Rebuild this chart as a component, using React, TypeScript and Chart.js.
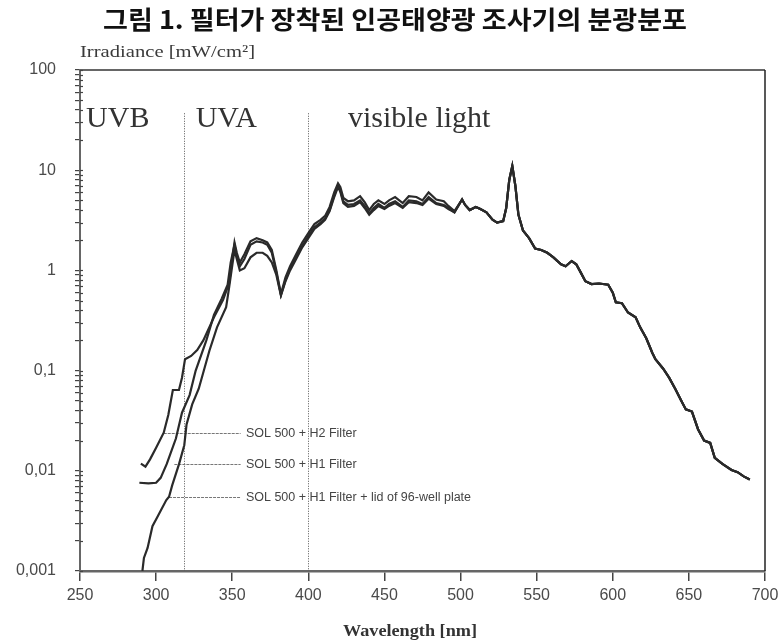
import { useEffect, useRef } from 'react';
import { Chart, registerables } from 'chart.js';

Chart.register(...registerables);

// Text
const TITLE = '그림 1. 필터가 장착된 인공태양광 조사기의 분광분포';
const Y_TITLE = 'Irradiance [mW/cm²]';
const X_TITLE = 'Wavelength [nm]';

// Axes
const X_MIN = 250;
const X_MAX = 700;
const X_STEP = 50;
const Y_MIN = 0.001;
const Y_MAX = 100;
const yMajorTicks = [0.001, 0.01, 0.1, 1, 10, 100];
const yTickLabels = ['0,001', '0,01', '0,1', '1', '10', '100'];

// SOL 500 + H2 Filter, UV and blue part
const h2Wavelength = [
  290, 293, 296, 300, 305, 308, 311, 315, 317, 319, 323, 327, 331, 338, 344, 348,
  350, 351.5, 353, 355, 358, 362, 366, 370, 373, 376, 379, 382, 385, 388, 392, 396,
  400, 404, 408, 411, 414, 417, 419.5, 421, 423, 426, 430, 434, 437, 440, 443, 446,
  450, 453, 457, 462, 466, 471, 475, 479, 484, 489, 492, 496,
];
const h2Irradiance = [
  0.0118, 0.011, 0.013, 0.017, 0.024, 0.036, 0.064, 0.064, 0.085, 0.13, 0.14, 0.16,
  0.2, 0.34, 0.51, 0.75, 1.3, 1.9, 1.5, 1.2, 1.45, 1.95, 2.1, 2.0, 1.9, 1.6, 1.0,
  0.58, 0.85, 1.1, 1.45, 1.9, 2.35, 2.9, 3.2, 3.5, 4.3, 6.0, 7.4, 6.8, 5.3, 4.9, 5.0,
  5.5, 4.8, 4.0, 4.6, 5.0, 4.6, 5.0, 5.4, 4.7, 5.5, 5.4, 5.0, 6.0, 5.1, 4.9, 4.4, 3.9,
];

// SOL 500 + H1 Filter, UV and blue part
const h1Wavelength = [
  289, 295, 300, 303, 307, 313, 317, 322, 326, 333, 338, 343, 347, 349, 351.5, 353,
  355, 358, 362, 366, 370, 373, 376, 379, 382, 385, 388, 392, 396, 400, 404, 408,
  411, 414, 417, 419.5, 421, 423, 426, 430, 434, 437, 440, 443, 446, 450, 453, 457,
  462, 466, 471, 475, 479, 484, 489, 492, 496,
];
const h1Irradiance = [
  0.0076, 0.0075, 0.0076, 0.0085, 0.0117, 0.021, 0.038, 0.057, 0.1, 0.2, 0.36, 0.52,
  0.72, 1.2, 1.8, 1.4, 1.1, 1.3, 1.8, 1.95, 1.9, 1.8, 1.5, 0.95, 0.57, 0.8, 1.05,
  1.35, 1.75, 2.2, 2.7, 3.0, 3.3, 4.0, 5.6, 7.0, 6.3, 4.9, 4.5, 4.6, 5.0, 4.4, 3.7,
  4.2, 4.6, 4.2, 4.6, 4.9, 4.3, 5.0, 4.9, 4.6, 5.4, 4.7, 4.5, 4.2, 3.8,
];

// SOL 500 + H1 Filter + lid of 96-well plate, UV and blue part
const lidWavelength = [
  291, 292, 294.4, 297.6, 301, 306.7, 308.5, 310.6, 315, 318.5, 320, 323.7, 328, 335,
  340, 346, 348, 351.5, 353, 355, 358, 362, 366, 370, 373, 376, 379, 382, 385, 388,
  392, 396, 400, 404, 408, 411, 414, 417, 419.5, 421, 423, 426, 430, 434, 437, 440,
  443, 446, 450, 453, 457, 462, 466, 471, 475, 479, 484, 489, 492, 496,
];
const lidIrradiance = [
  0.001, 0.00135, 0.0017, 0.0028, 0.0035, 0.0051, 0.0055, 0.0072, 0.0116, 0.018,
  0.029, 0.046, 0.066, 0.158, 0.27, 0.43, 0.68, 1.6, 1.3, 1.0, 1.05, 1.35, 1.5, 1.5,
  1.4, 1.2, 0.9, 0.56, 0.78, 1.0, 1.3, 1.7, 2.1, 2.6, 2.9, 3.2, 3.9, 5.4, 6.8, 6.1,
  4.7, 4.3, 4.4, 4.8, 4.2, 3.6, 4.0, 4.4, 4.1, 4.4, 4.7, 4.2, 4.8, 4.7, 4.5, 5.2,
  4.6, 4.4, 4.1, 3.8,
];

// Common long-wavelength part, identical for the three set-ups
const tailWavelength = [
  501, 503, 506, 510, 513, 517, 521, 524, 528, 530, 532, 534, 536, 538, 541, 545,
  549, 553, 557, 561, 566, 569, 573, 576, 579, 582, 586, 591, 597, 600, 602, 606,
  610, 615, 618, 622, 626, 628, 633, 637, 641, 645, 648, 652, 656, 660, 664, 667,
  672, 678, 682, 686, 690,
];
const tailIrradiance = [
  5.1, 4.5, 4.0, 4.3, 4.1, 3.8, 3.2, 3.0, 3.1, 4.2, 8.0, 11.0, 7.0, 3.6, 2.5, 2.1,
  1.65, 1.6, 1.5, 1.35, 1.15, 1.1, 1.24, 1.15, 0.95, 0.78, 0.73, 0.74, 0.72, 0.6,
  0.48, 0.47, 0.38, 0.34, 0.27, 0.21, 0.15, 0.13, 0.105, 0.085, 0.066, 0.05, 0.041,
  0.039, 0.026, 0.02, 0.019, 0.0135, 0.0117, 0.0102, 0.0097, 0.0088, 0.0082,
];

// Series names with the curve points their leader lines start from
const seriesNames = [
  'SOL 500 + H2 Filter',
  'SOL 500 + H1 Filter',
  'SOL 500 + H1 Filter + lid of 96-well plate',
];
const leaderWavelength = [305, 312, 308.5];
const leaderIrradiance = [0.024, 0.0117, 0.0055];
const leaderEndWavelength = 355.5;
const seriesLabelWavelength = 359;

// Spectral bands
const bandLabels = ['UVB', 'UVA', 'visible light'];
const bandLabelWavelength = [254, 326, 426];
const bandLabelIrradiance = 27;
const bandEdges = [318, 400];
const bandEdgeTop = 37;

const SANS = '"Liberation Sans", Arial, sans-serif';
const SERIF = '"Liberation Serif", "Times New Roman", serif';
const CJK = '"Noto Sans CJK KR", "Noto Sans", sans-serif';

const toPoints = (xs: number[], ys: number[]) => xs.map((x, i) => ({ x, y: ys[i] }));

function fitText(
  ctx: CanvasRenderingContext2D,
  text: string,
  x: number,
  y: number,
  width: number,
  align: CanvasTextAlign,
) {
  const w = ctx.measureText(text).width;
  ctx.save();
  ctx.translate(x, y);
  ctx.scale(width / w, 1);
  ctx.textAlign = align;
  ctx.fillText(text, 0, 0);
  ctx.restore();
}

const decorations = {
  id: 'decorations',
  beforeDatasetsDraw(chart: any) {
    const { ctx, chartArea, scales } = chart;
    const xs = scales.x;
    const ys = scales.y;
    ctx.save();
    // frame: top and right
    ctx.strokeStyle = '#666';
    ctx.lineWidth = 2;
    ctx.beginPath();
    ctx.moveTo(chartArea.left, chartArea.top);
    ctx.lineTo(chartArea.right, chartArea.top);
    ctx.stroke();
    ctx.strokeStyle = '#222';
    ctx.lineWidth = 1.5;
    ctx.beginPath();
    ctx.moveTo(chartArea.right, chartArea.top);
    ctx.lineTo(chartArea.right, chartArea.bottom);
    ctx.stroke();
    // short inner part of the y ticks
    ctx.strokeStyle = '#444';
    ctx.lineWidth = 1.2;
    ys.ticks.forEach((t: any) => {
      const py = Math.round(ys.getPixelForValue(t.value)) + 0.5;
      ctx.beginPath();
      ctx.moveTo(chartArea.left, py);
      ctx.lineTo(chartArea.left + 3, py);
      ctx.stroke();
    });
    // band edges
    ctx.strokeStyle = '#555';
    ctx.lineWidth = 1;
    ctx.setLineDash([1, 1.5]);
    bandEdges.forEach((wl) => {
      const px = Math.round(xs.getPixelForValue(wl)) + 0.5;
      ctx.beginPath();
      ctx.moveTo(px, ys.getPixelForValue(bandEdgeTop));
      ctx.lineTo(px, chartArea.bottom);
      ctx.stroke();
    });
    // leader lines
    ctx.strokeStyle = '#777';
    ctx.setLineDash([3, 1]);
    seriesNames.forEach((_, i) => {
      const py = Math.round(ys.getPixelForValue(leaderIrradiance[i])) + 0.5;
      ctx.beginPath();
      ctx.moveTo(xs.getPixelForValue(leaderWavelength[i]), py);
      ctx.lineTo(xs.getPixelForValue(leaderEndWavelength), py);
      ctx.stroke();
    });
    ctx.restore();
  },
  afterDraw(chart: any) {
    const { ctx, chartArea, scales } = chart;
    const xs = scales.x;
    const ys = scales.y;
    ctx.save();
    ctx.textBaseline = 'middle';
    // title
    ctx.fillStyle = '#111';
    ctx.font = `bold 25px ${CJK}`;
    fitText(ctx, TITLE, 395, 19, 584, 'center');
    // axis titles
    ctx.fillStyle = '#3a3a3a';
    ctx.font = `17px ${SERIF}`;
    fitText(ctx, Y_TITLE, chartArea.left, 53, 175, 'left');
    ctx.fillStyle = '#333';
    ctx.font = `bold 17px ${SERIF}`;
    fitText(ctx, X_TITLE, 410, 632, 134, 'center');
    // band labels
    ctx.textBaseline = 'alphabetic';
    ctx.textAlign = 'left';
    ctx.fillStyle = '#333';
    ctx.font = `30px ${SERIF}`;
    bandLabels.forEach((label, i) => {
      ctx.fillText(
        label,
        xs.getPixelForValue(bandLabelWavelength[i]),
        ys.getPixelForValue(bandLabelIrradiance),
      );
    });
    // series labels
    ctx.textBaseline = 'middle';
    ctx.fillStyle = '#444';
    ctx.font = `12.5px ${SANS}`;
    seriesNames.forEach((name, i) => {
      ctx.fillText(
        name,
        xs.getPixelForValue(seriesLabelWavelength),
        Math.round(ys.getPixelForValue(leaderIrradiance[i])) + 0.5,
      );
    });
    ctx.restore();
  },
};

export default function App() {
  const canvasRef = useRef<HTMLCanvasElement | null>(null);

  useEffect(() => {
    const canvas = canvasRef.current;
    if (!canvas) return;

    const lineStyle = {
      borderColor: '#2a2a2a',
      borderWidth: 2.2,
      pointRadius: 0,
      tension: 0,
      fill: false,
    };

    const chart = new Chart(canvas, {
      type: 'line',
      data: {
        datasets: [
          {
            label: seriesNames[0],
            data: [...toPoints(h2Wavelength, h2Irradiance), ...toPoints(tailWavelength, tailIrradiance)],
            ...lineStyle,
          },
          {
            label: seriesNames[1],
            data: [...toPoints(h1Wavelength, h1Irradiance), ...toPoints(tailWavelength, tailIrradiance)],
            ...lineStyle,
          },
          {
            label: seriesNames[2],
            data: [...toPoints(lidWavelength, lidIrradiance), ...toPoints(tailWavelength, tailIrradiance)],
            ...lineStyle,
          },
        ],
      },
      options: {
        animation: false,
        responsive: false,
        devicePixelRatio: 1,
        layout: { padding: { top: 70, right: 13, left: 0, bottom: 0 } },
        plugins: {
          legend: { display: false },
          title: { display: false },
          tooltip: { enabled: false },
        },
        scales: {
          x: {
            type: 'linear',
            min: X_MIN,
            max: X_MAX,
            afterFit: (scale: any) => {
              scale.height = 72;
              scale.paddingLeft = 0;
              scale.paddingRight = 0;
            },
            ticks: {
              stepSize: X_STEP,
              color: '#4a4a4a',
              font: { family: SANS, size: 16 },
              padding: 5,
              maxRotation: 0,
            },
            grid: {
              drawOnChartArea: false,
              drawTicks: true,
              tickLength: 10,
              color: '#444',
              lineWidth: 1.5,
            },
            border: { display: true, color: '#666', width: 2.5 },
          },
          y: {
            type: 'logarithmic',
            min: Y_MIN,
            max: Y_MAX,
            afterFit: (scale: any) => {
              scale.width = 80;
              scale.paddingTop = 0;
              scale.paddingBottom = 0;
            },
            afterBuildTicks: (scale: any) => {
              const ticks: { value: number }[] = [];
              for (let e = -3; e < 2; e++) {
                for (let k = 1; k < 10; k++) {
                  ticks.push({ value: Number((k * Math.pow(10, e)).toPrecision(6)) });
                }
              }
              ticks.push({ value: Y_MAX });
              scale.ticks = ticks;
            },
            ticks: {
              autoSkip: false,
              color: '#4a4a4a',
              font: { family: SANS, size: 16 },
              padding: 19,
              callback: (value: any) => {
                const idx = yMajorTicks.findIndex((t) => Math.abs(Math.log10(value) - Math.log10(t)) < 1e-6);
                return idx >= 0 ? yTickLabels[idx] : '';
              },
            },
            grid: {
              drawOnChartArea: false,
              drawTicks: true,
              tickLength: 5,
              color: '#444',
              lineWidth: 1.2,
            },
            border: { display: true, color: '#666', width: 2 },
          },
        },
      },
      plugins: [decorations],
    });

    return () => chart.destroy();
  }, []);

  return (
    <div style={{ position: 'absolute', left: 0, top: 0, width: 778, height: 643, background: '#fff' }}>
      <canvas ref={canvasRef} width={778} height={643} />
    </div>
  );
}
